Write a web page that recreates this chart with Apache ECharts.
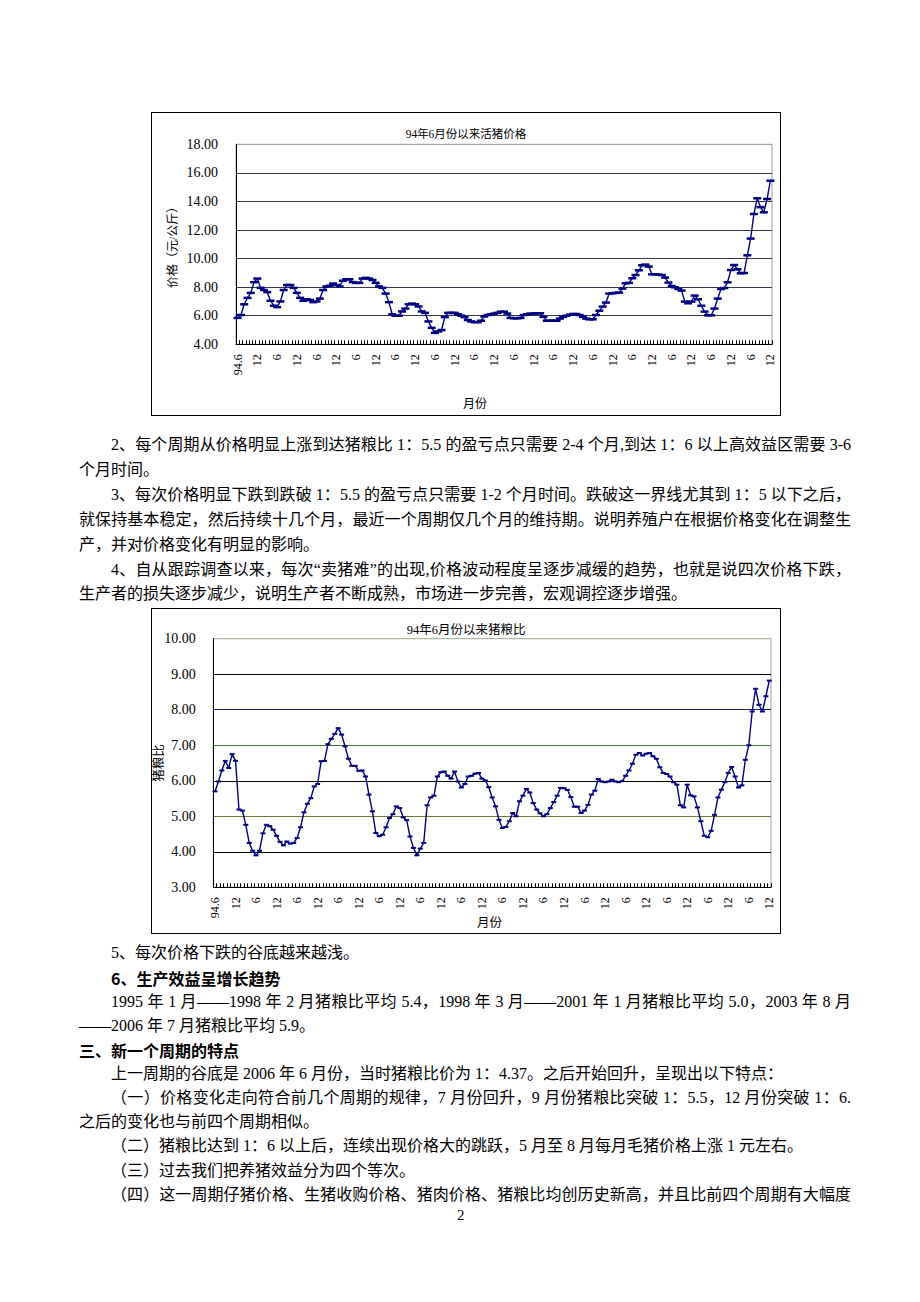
<!DOCTYPE html>
<html>
<head>
<meta charset="utf-8">
<script src="https://cdn.jsdelivr.net/npm/echarts@6/dist/echarts.min.js"></script>
<style>
html,body{margin:0;padding:0;background:#fff;}
body{width:920px;height:1302px;position:relative;overflow:hidden;font-family:"Liberation Serif","Noto Sans CJK SC",serif;color:#000;}
.ln{position:absolute;left:79px;width:772px;font-size:16px;line-height:20px;white-space:nowrap;}
.j{text-align:justify;text-align-last:justify;white-space:normal;}
.ind{text-indent:32px;}
.b{font-weight:bold;font-family:"Noto Sans CJK SC",sans-serif;}
.frame{position:absolute;left:151px;width:630px;border:1px solid #000;box-sizing:border-box;background:#fff;}
.chart{position:absolute;left:0;top:0;right:0;bottom:0;}
.pg{position:absolute;left:457px;top:1206px;font-size:15px;line-height:18px;}
</style>
</head>
<body>
<div class="frame" style="top:112px;height:304px;"><div id="c1" class="chart"></div></div>

<div class="ln j ind" style="top:435px;">2、每个周期从价格明显上涨到达猪粮比 1：5.5 的盈亏点只需要 2-4 个月,到达 1：6 以上高效益区需要 3-6</div>
<div class="ln" style="top:460px;">个月时间。</div>
<div class="ln j ind" style="top:485px;">3、每次价格明显下跌到跌破 1：5.5 的盈亏点只需要 1-2 个月时间。跌破这一界线尤其到 1：5 以下之后，</div>
<div class="ln j" style="top:509.5px;">就保持基本稳定，然后持续十几个月，最近一个周期仅几个月的维持期。说明养殖户在根据价格变化在调整生</div>
<div class="ln" style="top:534.5px;">产，并对价格变化有明显的影响。</div>
<div class="ln j ind" style="top:559.5px;">4、自从跟踪调查以来，每次“卖猪难”的出现,价格波动程度呈逐步减缓的趋势，也就是说四次价格下跌，</div>
<div class="ln" style="top:584px;">生产者的损失逐步减少，说明生产者不断成熟，市场进一步完善，宏观调控逐步增强。</div>

<div class="frame" style="top:608px;height:326px;"><div id="c2" class="chart"></div></div>

<div class="ln ind" style="top:943px;">5、每次价格下跌的谷底越来越浅。</div>
<div class="ln ind b" style="top:967.5px;">6、生产效益呈增长趋势</div>
<div class="ln j ind" style="top:991.5px;">1995 年 1 月——1998 年 2 月猪粮比平均 5.4，1998 年 3 月——2001 年 1 月猪粮比平均 5.0，2003 年 8 月</div>
<div class="ln" style="top:1015.5px;">——2006 年 7 月猪粮比平均 5.9。</div>
<div class="ln b" style="top:1039.5px;">三、新一个周期的特点</div>
<div class="ln ind" style="top:1063.5px;">上一周期的谷底是 2006 年 6 月份，当时猪粮比价为 1：4.37。之后开始回升，呈现出以下特点：</div>
<div class="ln j ind" style="top:1087.5px;">（一）价格变化走向符合前几个周期的规律，7 月份回升，9 月份猪粮比突破 1：5.5，12 月份突破 1：6.</div>
<div class="ln" style="top:1112px;">之后的变化也与前四个周期相似。</div>
<div class="ln ind" style="top:1136px;">（二）猪粮比达到 1：6 以上后，连续出现价格大的跳跃，5 月至 8 月每月毛猪价格上涨 1 元左右。</div>
<div class="ln ind" style="top:1160.5px;">（三）过去我们把养猪效益分为四个等次。</div>
<div class="ln j ind" style="top:1184.5px;">（四）这一周期仔猪价格、生猪收购价格、猪肉价格、猪粮比均创历史新高，并且比前四个周期有大幅度</div>
<div class="pg">2</div>

<script>
// ---- data ----
const startYear = 1994, startMonth = 6, monthCount = 163; // 1994.6 – 2007.12
const chart1Title = '94年6月份以来活猪价格';
const chart2Title = '94年6月份以来猪粮比';
const chart1YName = '价格（元/公斤）';
const chart2YName = '猪粮比';
const xName = '月份';

// live pig price (yuan/kg), monthly from 1994.6
const livePigPrice = [
  5.85,6.05,6.8,7.25,7.6,8.35,8.6,7.95,7.8,7.65,
  7.05,6.7,6.6,7.0,7.8,8.15,8.15,7.95,7.6,7.25,
  7.05,7.15,7.1,6.95,7.0,7.2,7.8,8.05,8.1,8.25,
  8.15,8.05,8.45,8.55,8.55,8.35,8.3,8.3,8.6,8.65,
  8.6,8.5,8.3,8.05,7.95,7.55,6.95,6.1,6.0,6.0,
  6.3,6.5,6.8,6.85,6.8,6.65,6.3,6.2,5.6,5.15,
  4.8,4.9,5.0,5.9,6.2,6.2,6.2,6.1,6.0,5.9,
  5.7,5.6,5.55,5.55,5.65,5.95,6.05,6.1,6.15,6.2,
  6.28,6.28,6.15,5.85,5.82,5.82,5.85,6.05,6.1,6.15,
  6.15,6.17,6.17,5.92,5.65,5.65,5.65,5.65,5.8,5.92,
  6.0,6.07,6.12,6.12,6.05,5.92,5.8,5.75,5.75,6.05,
  6.35,6.64,6.92,7.55,7.57,7.6,7.62,7.9,8.27,8.3,
  8.62,8.85,9.18,9.53,9.58,9.44,8.9,8.9,8.88,8.85,
  8.67,8.32,8.08,7.99,7.87,7.76,6.99,6.87,6.99,7.41,
  7.15,6.7,6.29,6.03,6.03,6.5,7.2,7.87,7.94,8.34,
  9.2,9.55,9.25,8.97,8.99,10.23,11.4,13.12,14.22,13.6,
  13.24,14.17,15.45
];

// pig-grain price ratio, monthly from 1994.6
const pigGrainRatio = [
  5.70,5.98,6.29,6.56,6.36,6.75,6.56,5.19,5.16,4.76,
  4.25,4.03,3.90,4.03,4.52,4.76,4.72,4.62,4.45,4.28,
  4.18,4.29,4.23,4.25,4.39,4.69,5.11,5.35,5.51,5.84,
  5.91,6.55,6.56,7.03,7.18,7.32,7.48,7.30,6.97,6.62,
  6.42,6.42,6.28,6.29,6.12,5.61,5.14,4.53,4.44,4.48,
  4.69,4.95,5.06,5.28,5.23,4.97,4.89,4.43,4.11,3.90,
  4.09,4.25,5.31,5.53,5.58,6.12,6.24,6.26,6.14,6.06,
  6.26,5.98,5.81,5.91,6.12,6.14,6.20,6.22,6.06,6.01,
  5.82,5.53,5.28,4.90,4.67,4.70,4.86,5.09,5.00,5.42,
  5.58,5.77,5.67,5.37,5.19,5.08,5.00,5.06,5.23,5.40,
  5.58,5.80,5.79,5.74,5.54,5.27,5.27,5.09,5.16,5.32,
  5.61,5.72,6.05,5.98,5.96,5.98,6.03,5.98,5.96,5.99,
  6.14,6.29,6.48,6.73,6.78,6.71,6.76,6.78,6.69,6.62,
  6.38,6.22,6.19,6.12,5.96,5.89,5.31,5.25,5.89,5.59,
  5.56,5.25,4.86,4.45,4.41,4.59,5.04,5.53,5.75,5.96,
  6.22,6.39,6.12,5.81,5.87,6.59,7.00,7.95,8.59,8.14,
  7.95,8.38,8.82
];

// categories: year.month
const categories = [];
for (let k = 0, y = startYear, m = startMonth; k < monthCount; k++) {
  categories.push(y + '.' + m);
  m++; if (m > 12) { m = 1; y++; }
}
const firstTickLabel = '94.6';
function monthLabel(v, idx) { return idx === 0 ? firstTickLabel : v.split('.')[1]; }

const FONT = '"Liberation Serif","Noto Sans CJK SC",serif';
const LINE = '#000080';

function makeOption(cfg) {
  return {
    animation: false,
    textStyle: { fontFamily: FONT, color: '#000' },
    title: { text: cfg.title, left: 'center', top: cfg.titleTop,
      textStyle: { fontFamily: FONT, fontSize: cfg.titleSize, fontWeight: 'normal', color: '#000' } },
    grid: { left: cfg.grid[0], top: cfg.grid[1], width: cfg.grid[2], height: cfg.grid[3],
      show: true, borderColor: cfg.borderColor, borderWidth: 1, backgroundColor: 'transparent',
      containLabel: false, outerBoundsMode: 'none' },
    xAxis: {
      type: 'category', data: categories, boundaryGap: true,
      axisLine: { show: true, lineStyle: { color: '#000', width: 1 } },
      axisTick: { show: true, inside: true, length: 4, interval: 0, lineStyle: { color: '#000', width: 1 } },
      axisLabel: { interval: 5, rotate: 90, margin: 10, fontSize: 12, fontFamily: FONT, color: '#000',
        formatter: monthLabel, hideOverlap: false },
      splitLine: { show: false }
    },
    yAxis: {
      type: 'value', min: cfg.min, max: cfg.max, interval: cfg.step,
      axisLine: { show: true, lineStyle: { color: '#000', width: 1 } },
      axisTick: { show: false },
      axisLabel: { margin: cfg.labelMargin, fontSize: 14, fontFamily: FONT, color: '#000',
        formatter: v => v.toFixed(2) },
      splitLine: { show: true, showMinLine: true, showMaxLine: true,
        lineStyle: { color: cfg.gridColors, width: 1 } },
      name: cfg.yName, nameLocation: 'middle', nameGap: cfg.nameGap, nameRotate: 90,
      nameMoveOverlap: false,
      nameTextStyle: { fontSize: cfg.yNameSize, fontFamily: FONT, color: '#000' }
    },
    graphic: [{ type: 'text', left: cfg.xNamePos[0], top: cfg.xNamePos[1],
      style: { text: xName, fontSize: cfg.xNameSize, fontFamily: FONT, fill: '#000' } }],
    series: [{
      type: 'line', data: cfg.data, symbol: 'rect', symbolSize: cfg.symbolSize,
      showAllSymbol: true,
      itemStyle: { color: LINE }, lineStyle: { color: LINE, width: 1.4 }
    }]
  };
}

const c1 = echarts.init(document.getElementById('c1'), null, { renderer: 'svg' });
c1.setOption(makeOption({
  title: chart1Title, titleTop: 10, titleSize: 11.5,
  grid: [84, 31.3, 536, 200], borderColor: '#a0a0a0',
  min: 4, max: 18, step: 2, labelMargin: 18,
  gridColors: ['#000', '#3a3448', '#3a3448', '#3a3448', '#3a3448', '#3a3448', '#3a3448', '#a0a0a0'],
  yName: chart1YName, nameGap: 57, yNameSize: 12,
  xNamePos: [311, 285], xNameSize: 12,
  data: livePigPrice, symbolSize: [8, 2.5]
}));

const c2 = echarts.init(document.getElementById('c2'), null, { renderer: 'svg' });
c2.setOption(makeOption({
  title: chart2Title, titleTop: 9.5, titleSize: 12.5,
  grid: [61.3, 29.7, 557.7, 248.6], borderColor: '#a0a0a0',
  min: 3, max: 10, step: 1, labelMargin: 17.6,
  gridColors: ['#000', '#000', '#6b7a3a', '#000', '#3f7a3f', '#1c1c6a', '#000', '#a8bca0'],
  yName: chart2YName, nameGap: 48, yNameSize: 12.5,
  xNamePos: [325, 308], xNameSize: 12.5,
  data: pigGrainRatio, symbolSize: [5, 2]
}));
</script>
</body>
</html>
